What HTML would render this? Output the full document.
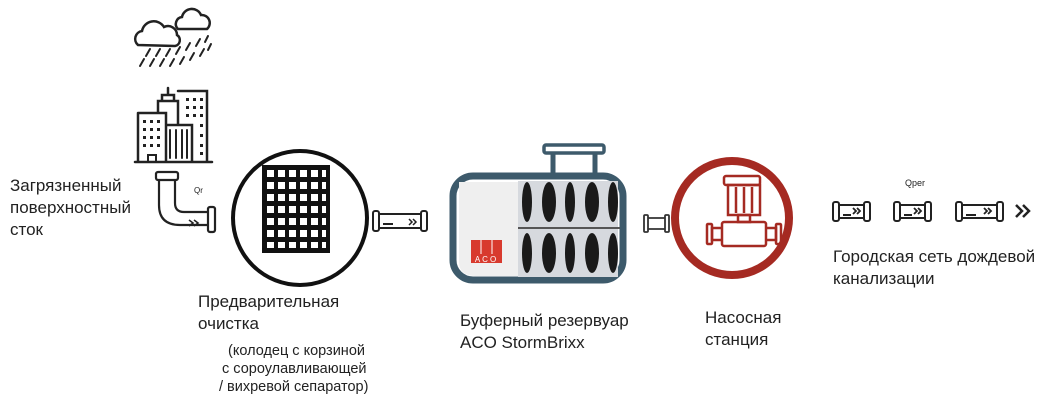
<!DOCTYPE html>
<html><head><meta charset="utf-8"><style>
html,body{margin:0;padding:0;background:#fff;}
svg{display:block}
text{font-family:"Liberation Sans",sans-serif;fill:#222}
</style></head><body>
<svg width="1050" height="401" viewBox="0 0 1050 401" xmlns="http://www.w3.org/2000/svg">
<!-- cloud -->
<g fill="none" stroke="#222" stroke-width="2.5" stroke-linecap="round">
<path d="M138 45 a8 8 0 0 1 4-14 a12 12 0 0 1 22-4 a9 9 0 0 1 13 8 a6 6 0 0 1 -2 11 z"/>
<path d="M178 29 a7 7 0 0 1 4-12 a10 10 0 0 1 19-2 a8 8 0 0 1 6 14 z" fill="#fff"/>
<g stroke-width="2">
<path d="M140 66 l4-7 M150 66 l4-7 M160 66 l4-7 M170 66 l4-7 M180 64 l4-7 M190 60 l4-7 M200 56 l4-7 M208 50 l3-6"/>
<path d="M146 56 l4-7 M156 56 l4-7 M166 56 l4-7 M176 54 l4-7 M186 50 l4-7 M196 46 l4-7 M205 42 l3-6"/>
</g>
<!-- buildings -->
<path d="M135 162 H212 M138 113 H166 V162 M138 113 V162 M158 113 V101 H178 V125 M162 101 V95 H174 V101 M168 95 V88 M178 91 H207 V162 M166 125 H192 V162"/>
<path d="M170 130 V158 M176 130 V158 M182 130 V158 M187 130 V158" stroke-width="2"/>
<path d="M148 155 h8 v7 h-8 z" stroke-width="2"/>
</g>
<g fill="#222">
<rect x="143" y="120" width="3" height="3"/><rect x="150" y="120" width="3" height="3"/><rect x="157" y="120" width="3" height="3"/>
<rect x="143" y="128" width="3" height="3"/><rect x="150" y="128" width="3" height="3"/><rect x="157" y="128" width="3" height="3"/>
<rect x="143" y="136" width="3" height="3"/><rect x="150" y="136" width="3" height="3"/><rect x="157" y="136" width="3" height="3"/>
<rect x="143" y="144" width="3" height="3"/><rect x="150" y="144" width="3" height="3"/><rect x="157" y="144" width="3" height="3"/>
<rect x="186" y="98" width="3" height="3"/><rect x="193" y="98" width="3" height="3"/><rect x="200" y="98" width="3" height="3"/>
<rect x="186" y="106" width="3" height="3"/><rect x="193" y="106" width="3" height="3"/><rect x="200" y="106" width="3" height="3"/>
<rect x="186" y="114" width="3" height="3"/><rect x="193" y="114" width="3" height="3"/><rect x="200" y="114" width="3" height="3"/>
<rect x="200" y="124" width="3" height="3"/><rect x="200" y="134" width="3" height="3"/><rect x="200" y="144" width="3" height="3"/><rect x="200" y="152" width="3" height="3"/>
</g>
<!-- elbow pipe -->
<g fill="none" stroke="#222" stroke-width="2.2">
<rect x="156" y="172" width="22" height="8" rx="2"/>
<path d="M159 180 V205 Q159 225 180 225 H208 M175 180 V203 Q175 212 184 212 H208"/>
<rect x="208" y="207" width="7" height="25" rx="2"/>
<path d="M189 220 l4 3 l-4 3 M194 220 l4 3 l-4 3" stroke-width="1.6"/>
</g>
<text x="194" y="193" font-size="8" fill="#555">Qr</text>
<!-- pre-cleaning circle -->
<circle cx="300" cy="218" r="67" fill="none" stroke="#111" stroke-width="4"/>
<rect x="262" y="165" width="68" height="88" fill="#111"/>
<g fill="#fff">
<rect x="267" y="170" width="7" height="7"/><rect x="278" y="170" width="7" height="7"/><rect x="289" y="170" width="7" height="7"/><rect x="300" y="170" width="7" height="7"/><rect x="311" y="170" width="7" height="7"/><rect x="322" y="170" width="4" height="7"/>
<rect x="267" y="182" width="7" height="7"/><rect x="278" y="182" width="7" height="7"/><rect x="289" y="182" width="7" height="7"/><rect x="300" y="182" width="7" height="7"/><rect x="311" y="182" width="7" height="7"/><rect x="322" y="182" width="4" height="7"/>
<rect x="267" y="194" width="7" height="7"/><rect x="278" y="194" width="7" height="7"/><rect x="289" y="194" width="7" height="7"/><rect x="300" y="194" width="7" height="7"/><rect x="311" y="194" width="7" height="7"/><rect x="322" y="194" width="4" height="7"/>
<rect x="267" y="206" width="7" height="7"/><rect x="278" y="206" width="7" height="7"/><rect x="289" y="206" width="7" height="7"/><rect x="300" y="206" width="7" height="7"/><rect x="311" y="206" width="7" height="7"/><rect x="322" y="206" width="4" height="7"/>
<rect x="267" y="218" width="7" height="7"/><rect x="278" y="218" width="7" height="7"/><rect x="289" y="218" width="7" height="7"/><rect x="300" y="218" width="7" height="7"/><rect x="311" y="218" width="7" height="7"/><rect x="322" y="218" width="4" height="7"/>
<rect x="267" y="230" width="7" height="7"/><rect x="278" y="230" width="7" height="7"/><rect x="289" y="230" width="7" height="7"/><rect x="300" y="230" width="7" height="7"/><rect x="311" y="230" width="7" height="7"/><rect x="322" y="230" width="4" height="7"/>
<rect x="267" y="242" width="7" height="6"/><rect x="278" y="242" width="7" height="6"/><rect x="289" y="242" width="7" height="6"/><rect x="300" y="242" width="7" height="6"/><rect x="311" y="242" width="7" height="6"/><rect x="322" y="242" width="4" height="6"/>
</g>
<!-- straight pipe 1 -->
<g fill="none" stroke="#222" stroke-width="2">
<rect x="373" y="211" width="6" height="20" rx="2"/><rect x="421" y="211" width="6" height="20" rx="2"/>
<path d="M379 214 H421 M379 228 H421 M383 224 H393"/>
<path d="M409 219 l3 3 l-3 3 M413 219 l3 3 l-3 3" stroke-width="1.5"/>
</g>
<!-- tank -->
<path d="M553 173 V151 M595 173 V151" stroke="#3d5a6b" stroke-width="5"/>
<rect x="544" y="145" width="60" height="8" rx="2" fill="#fff" stroke="#3d5a6b" stroke-width="3.5"/>
<rect x="453" y="176" width="170" height="104" rx="20" fill="#fff" stroke="#3d5a6b" stroke-width="7"/>
<path d="M459 182 H518 V276 H476 Q459 276 459 262 Z" fill="#efefef"/>
<rect x="518" y="181" width="100" height="96" fill="#d6d9de"/>
<g fill="#1a1a1a">
<ellipse cx="527" cy="202" rx="5" ry="20"/><ellipse cx="549" cy="202" rx="7" ry="20"/><ellipse cx="570" cy="202" rx="5" ry="20"/><ellipse cx="592" cy="202" rx="7" ry="20"/><ellipse cx="613" cy="202" rx="5" ry="20"/>
<ellipse cx="527" cy="253" rx="5" ry="20"/><ellipse cx="549" cy="253" rx="7" ry="20"/><ellipse cx="570" cy="253" rx="5" ry="20"/><ellipse cx="592" cy="253" rx="7" ry="20"/><ellipse cx="613" cy="253" rx="5" ry="20"/>
</g>
<path d="M518 228 H620" stroke="#555" stroke-width="2"/>
<rect x="471" y="240" width="31" height="23" fill="#d83a2e"/>
<path d="M481 240 V254 M492 240 V254" stroke="#fff" stroke-width="1"/>
<text x="486.5" y="262" font-size="8" text-anchor="middle" letter-spacing="2" style="fill:#fff">ACO</text>
<!-- small pipe 2 -->
<g fill="none" stroke="#333" stroke-width="1.8">
<rect x="644" y="215" width="4" height="17" rx="1"/><rect x="665" y="215" width="4" height="17" rx="1"/>
<path d="M648 218 H665 M648 229 H665"/>
</g>
<!-- pump -->
<circle cx="732" cy="218" r="57" fill="none" stroke="#a52a22" stroke-width="8"/>
<g fill="none" stroke="#a52a22" stroke-width="2.5">
<rect x="724" y="176" width="36" height="9" rx="2"/>
<rect x="728" y="185" width="32" height="30"/>
<path d="M736 187 V213 M744 187 V213 M752 187 V213"/>
<rect x="738" y="215" width="12" height="7"/>
<rect x="722" y="222" width="44" height="24" rx="2"/>
<path d="M722 228 H712 V240 H722 M766 228 H776 V240 H766"/>
<rect x="707" y="224" width="5" height="20" rx="1"/><rect x="776" y="224" width="5" height="20" rx="1"/>
</g>
<!-- pipes right -->
<g fill="none" stroke="#222" stroke-width="2">
<rect x="833" y="202" width="6" height="19" rx="2"/><rect x="864" y="202" width="6" height="19" rx="2"/>
<path d="M839 205 H864 M839 218 H864 M843 215 H851"/>
<rect x="894" y="202" width="6" height="19" rx="2"/><rect x="925" y="202" width="6" height="19" rx="2"/>
<path d="M900 205 H925 M900 218 H925 M904 215 H912"/>
<rect x="956" y="202" width="6" height="19" rx="2"/><rect x="997" y="202" width="6" height="19" rx="2"/>
<path d="M962 205 H997 M962 218 H997 M966 215 H976"/>
<g stroke-width="1.8"><path d="M853 208 l3 3 l-3 3 M857 208 l3 3 l-3 3 M914 208 l3 3 l-3 3 M918 208 l3 3 l-3 3 M984 208 l3 3 l-3 3 M988 208 l3 3 l-3 3"/></g>
<path d="M1016 205 l6 6 l-6 6 M1023 205 l6 6 l-6 6" stroke-width="2.5"/>
</g>
<text x="905" y="186" font-size="9" fill="#444">Qper</text>
<!-- labels -->
<g font-size="17">
<text x="10" y="191">Загрязненный</text>
<text x="10" y="213">поверхностный</text>
<text x="10" y="235">сток</text>
<text x="198" y="307">Предварительная</text>
<text x="198" y="329">очистка</text>
<text x="460" y="326">Буферный резервуар</text>
<text x="460" y="348">ACO StormBrixx</text>
<text x="705" y="323">Насосная</text>
<text x="705" y="345">станция</text>
<text x="833" y="262">Городская сеть дождевой</text>
<text x="833" y="284">канализации</text>
</g>
<g font-size="14.5">
<text x="228" y="355">(колодец с корзиной</text>
<text x="222" y="373">с сороулавливающей</text>
<text x="219" y="391">/ вихревой сепаратор)</text>
</g>
</svg>
</body></html>
